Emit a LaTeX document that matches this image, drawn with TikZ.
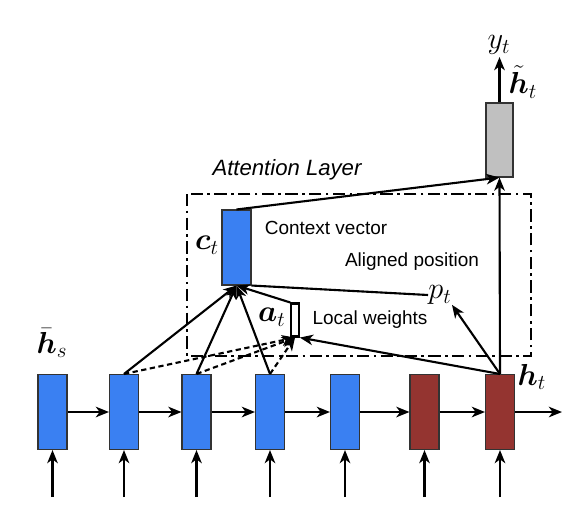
\documentclass[tikz,border=0pt]{standalone}
\usepackage{amsmath,amssymb}
\usepackage{fontspec}
\usepackage{tikz}
\usetikzlibrary{arrows.meta}
\newfontfamily\lblfont{Liberation Sans}
\definecolor{encblue}{HTML}{3A80F2}
\definecolor{decred}{HTML}{943430}
\definecolor{attgray}{HTML}{C0C0C0}
\definecolor{edgec}{HTML}{333333}
\tikzset{
  ar/.style={-{Stealth[length=7.5pt,width=6pt,inset=2.2pt]},line width=1.2pt},
  dar/.style={ar,dash pattern=on 3pt off 2pt},
  cell/.style={draw=edgec,line width=0.6pt,minimum width=0.58cm,minimum height=1.5cm,inner sep=0pt},
  txt/.style={font=\lblfont\fontsize{10.8}{13}\selectfont},
  lbl/.style={font=\fontsize{18}{20}\selectfont,inner sep=0pt}
}
\begin{document}
\begin{tikzpicture}[x=0.02cm,y=-0.02cm]
\useasboundingbox (0,0) rectangle (588,518);
% encoder / decoder states
\foreach \i/\x/\c in {1/52.5/encblue,2/124/encblue,3/196.5/encblue,4/270/encblue,5/345/encblue,6/424.5/decred,7/500/decred}{
  \node[cell,fill=\c] (s\i) at (\x,412) {};
  \coordinate (in\i) at (\x,497);
  \draw[ar] (in\i) -- (s\i);
}
\foreach \i/\j in {1/2,2/3,3/4,4/5,5/6,6/7}{\draw[ar] (s\i) -- (s\j);}
\coordinate (out) at (562,412);
\draw[ar] (s7) -- (out);
\node[lbl] (hs) at (52,343) {$\bar{\boldsymbol{h}}_s$};
\node[lbl] (ht) at (532,377) {$\boldsymbol{h}_t$};
% attention layer
\draw[line width=1.2pt,dash pattern=on 7pt off 2.5pt on 1.5pt off 2.5pt] (187,194) rectangle (531,356);
\node[font=\lblfont\itshape\fontsize{12.6}{15}\selectfont] (attn) at (287,170) {Attention Layer};
\node[cell,fill=encblue] (ctx) at (236.5,247.5) {};
\node[lbl] (ctxl) at (207,245) {$\boldsymbol{c}_t$};
\node[txt] (ctxt) at (326,228) {Context vector};
\node[draw,fill=white,line width=1.2pt,minimum width=0.15cm,minimum height=0.66cm,inner sep=0pt] (awt) at (295,320) {};
\node[lbl] (awtl) at (272,317) {$\boldsymbol{a}_t$};
\node[txt] (awtt) at (370,320) {Local weights};
\node[lbl] (pt) at (440,295) {$p_t$};
\node[txt] (ptt) at (412,262) {Aligned position};
\node[cell,fill=attgray,minimum width=0.54cm,minimum height=1.48cm] (hat) at (499.5,140) {};
\node[lbl] (hatl) at (523,82) {$\tilde{\boldsymbol{h}}_t$};
\coordinate (yt) at (499.5,57);
\node[lbl] (ytl) at (499,45) {$y_t$};
% connections
\foreach \i in {2,3,4}{
  \draw[ar] (s\i.north) -- (ctx.south);
  \draw[dar] (s\i.north) -- (awt.south);
}
\draw[ar] (awt.north west) -- (ctx.south);
\draw[line width=1.2pt] (pt.west) -- (ctx.south east);
\draw[ar] (s7.north) -- (awt.south east);
\draw[ar] (s7.north) -- (pt.south east);
\draw[ar] (s7.north) -- (hat.south);
\draw[ar] (ctx.north) -- (hat.south);
\draw[ar] (hat.north) -- (yt);
\end{tikzpicture}
\end{document}
